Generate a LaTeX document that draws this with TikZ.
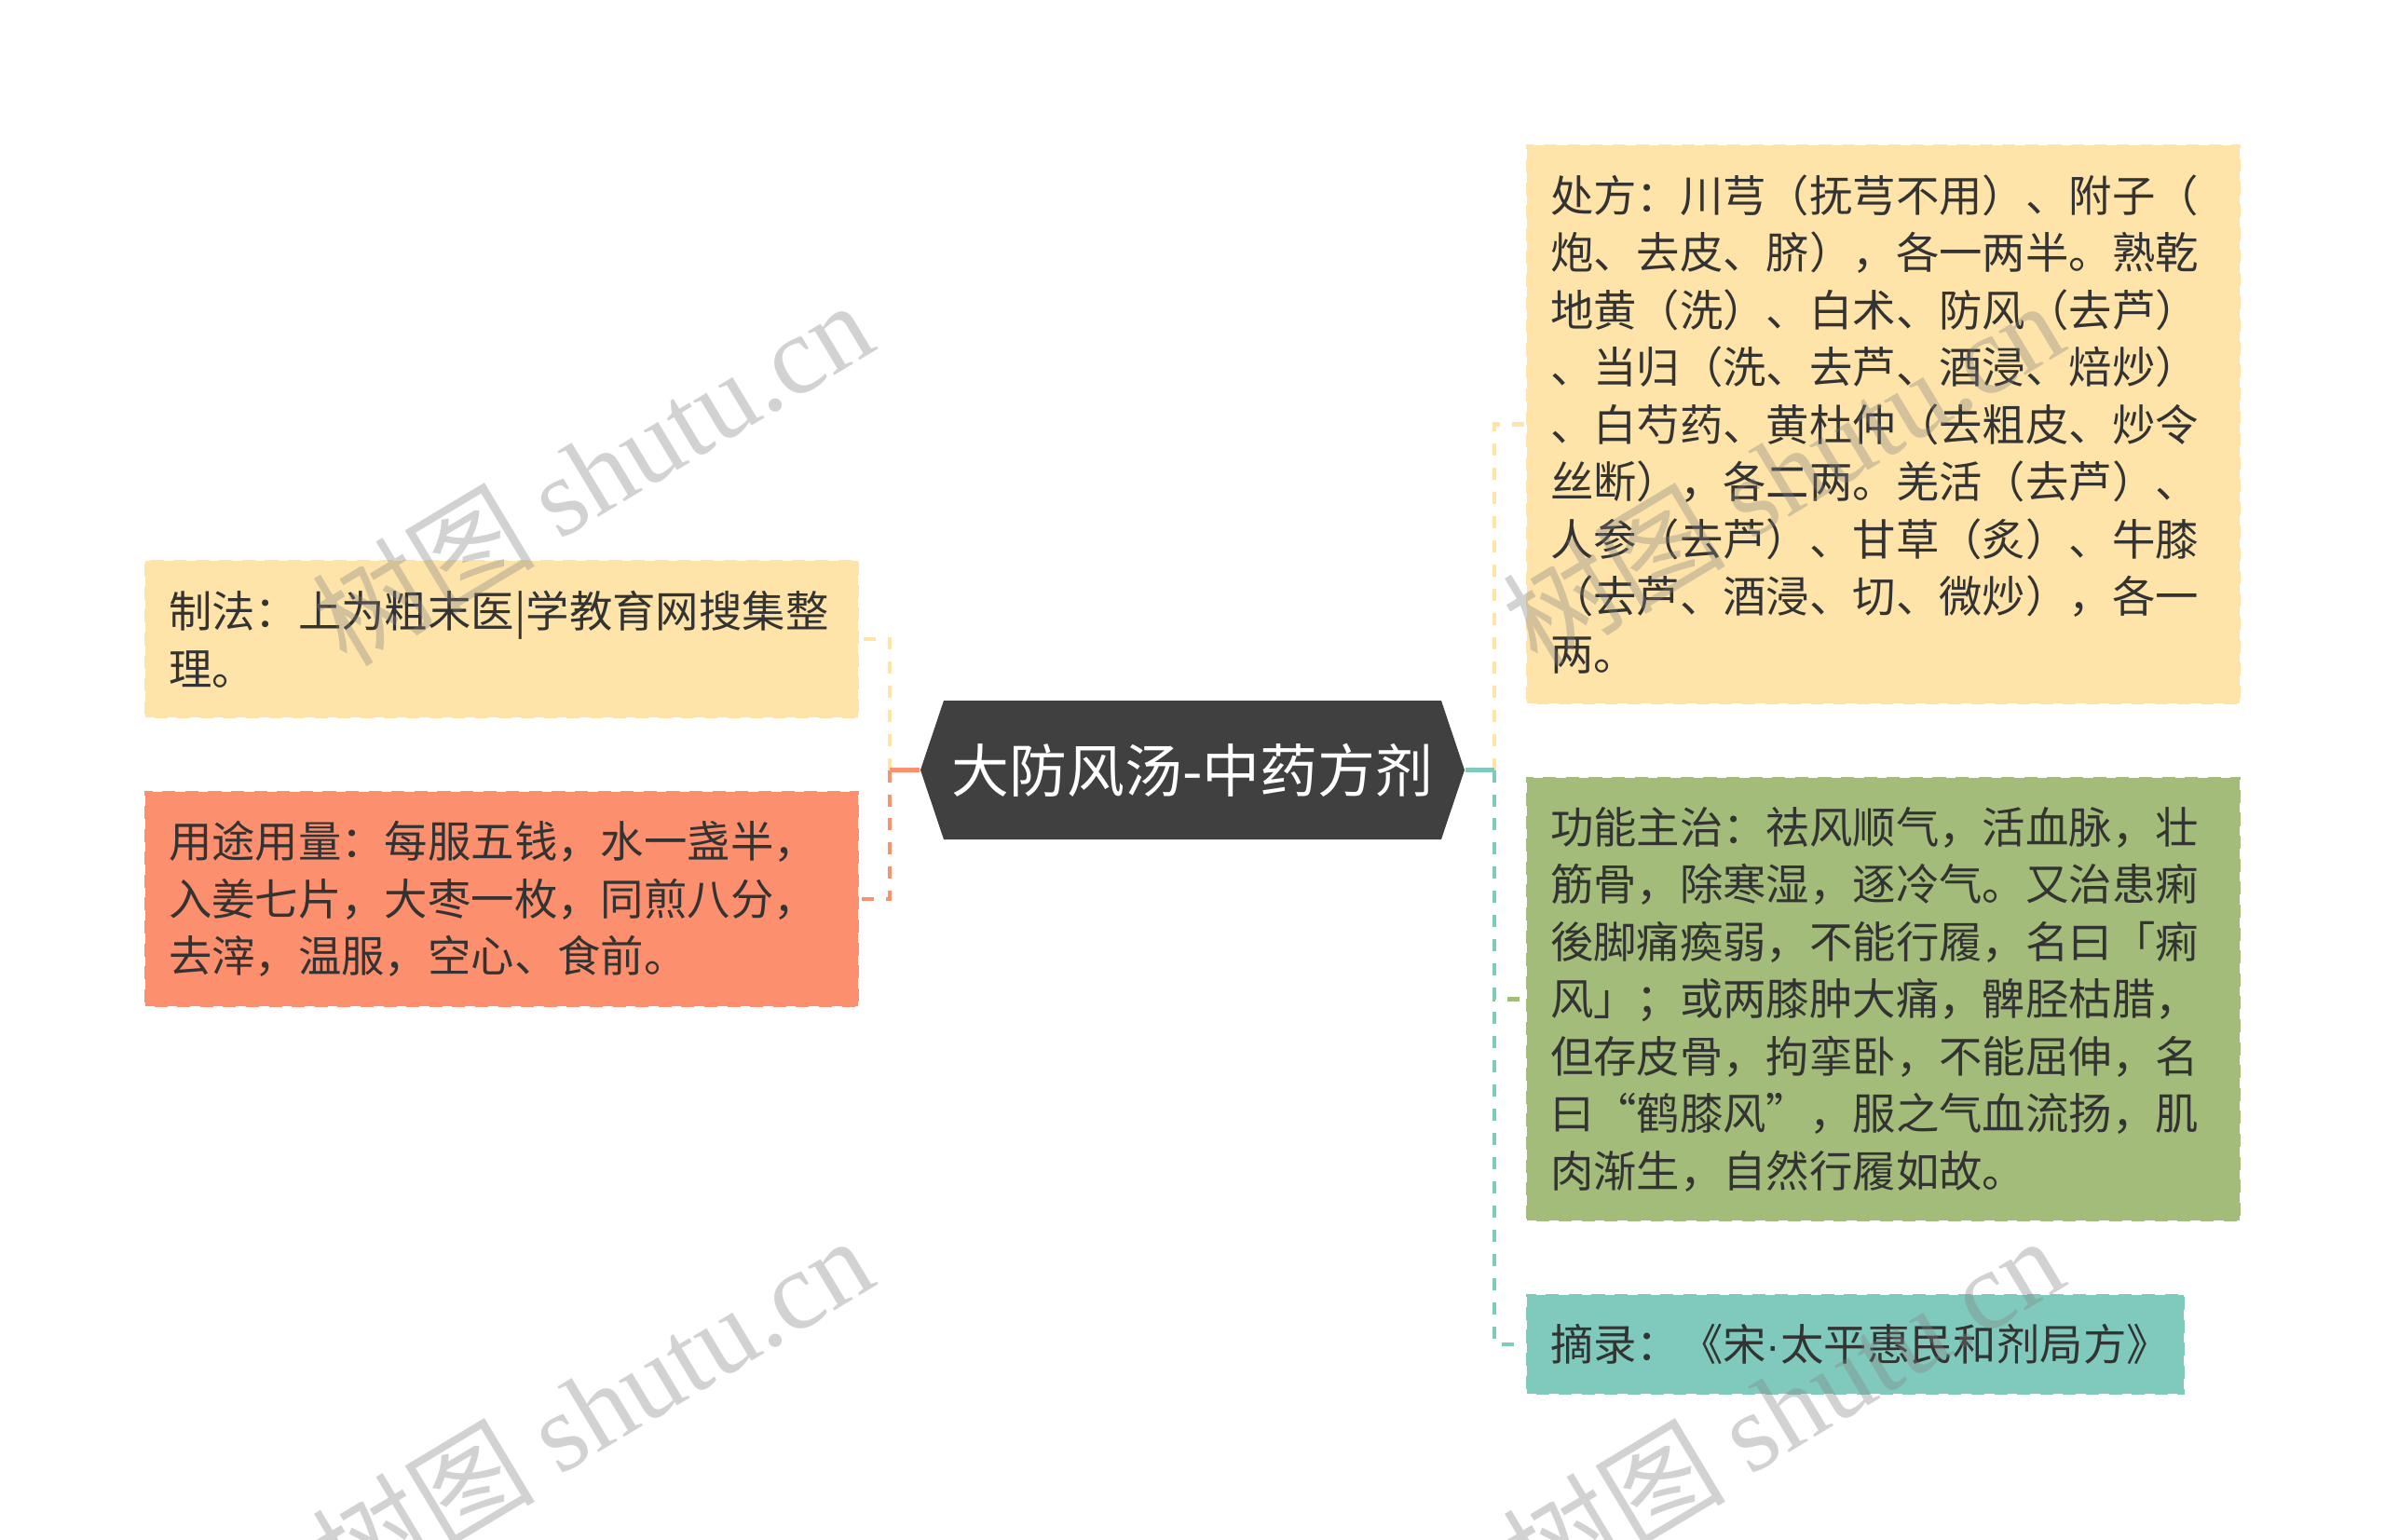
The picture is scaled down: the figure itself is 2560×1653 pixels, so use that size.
\documentclass[tikz,border=0pt]{standalone}
\usepackage{fontspec}
\setmainfont{Noto Sans CJK SC}
\newfontfamily\markfont{Liberation Serif}
\newfontfamily\dotfont{Liberation Sans}
\definecolor{ylw}{HTML}{FFE4AA}
\definecolor{org}{HTML}{FC8F6E}
\definecolor{grn}{HTML}{A3BC79}
\definecolor{tea}{HTML}{80CABD}
\definecolor{hubgray}{HTML}{404040}
\definecolor{ink}{HTML}{333333}

\begin{document}
\begin{tikzpicture}[x=0.1mm,y=-0.1mm,
  leaf/.style={fill=#1, draw=white, line width=0.8pt, dash pattern=on 3pt off 4pt,
    text=ink, align=left, inner xsep=2.6mm, inner ysep=0pt,
    font=\fontsize{13.2pt}{17.5pt}\selectfont},
  hub/.style={minimum width=58.4mm, minimum height=14.9mm, inner sep=0pt, text=white,
    font=\fontsize{17.6pt}{20pt}\selectfont,
    path picture={\fill[hubgray] (path picture bounding box.west)
      -- ([xshift=2.5mm]path picture bounding box.north west)
      -- ([xshift=-2.5mm]path picture bounding box.north east)
      -- (path picture bounding box.east)
      -- ([xshift=-2.5mm]path picture bounding box.south east)
      -- ([xshift=2.5mm]path picture bounding box.south west) -- cycle;}},
  link/.style={draw=#1, line width=1.4pt, dash pattern=on 1.3mm off 1.3mm},
  stub/.style={draw=#1, line width=1.4pt},
  wmark/.style={rotate=31, anchor=base west, text=gray, opacity=0.35, inner sep=0pt,
    font=\fontsize{34pt}{34pt}\selectfont}]

\fill[white] (0,0) rectangle (2560,1653);

\node[hub] (hub) at (1280,826.5) {大防风汤-中药方剂};

\node[leaf=ylw, text width=71.5mm, minimum height=17mm] (method) at (538.5,686)
  {制法：上为粗末医|学教育网搜集整\\理。};
\node[leaf=org, text width=71.5mm, minimum height=23.2mm] (usage) at (538.5,965)
  {用途用量：每服五钱，水一盏半，\\入姜七片，大枣一枚，同煎八分，\\去滓，温服，空心、食前。};

\node[leaf=ylw, text width=71.5mm, minimum height=60.1mm] (presc) at (2021.5,455.5)
  {处方：川芎（抚芎不用）、附子（\\炮、去皮、脐），各一两半。熟乾\\地黄（洗）、白术、防风（去芦）\\、当归（洗、去芦、酒浸、焙炒）\\、白芍药、黄杜仲（去粗皮、炒令\\丝断），各二两。羌活（去芦）、\\人参（去芦）、甘草（炙）、牛膝\\（去芦、酒浸、切、微炒），各一\\两。};
\node[leaf=grn, text width=71.5mm, minimum height=47.7mm] (func) at (2021.5,1072.5)
  {功能主治：祛风顺气，活血脉，壮\\筋骨，除寒湿，逐冷气。又治患痢\\後脚痛瘓弱，不能行履，名曰「痢\\风」；或两膝肿大痛，髀胫枯腊，\\但存皮骨，拘挛卧，不能屈伸，名\\曰“鹤膝风”，服之气血流扬，肌\\肉渐生，自然行履如故。};
\node[leaf=tea, text width=65.5mm, minimum height=10.8mm] (source) at (1991.5,1443)
  {摘录：《宋{\dotfont ·}太平惠民和剂局方》};

\coordinate (ljoin) at (955,826.5);
\coordinate (rjoin) at (1604,826.5);

\draw[link=ylw] (ljoin) |- (method.east);
\draw[link=org] (ljoin) |- (usage.east);
\draw[stub=org] (hub.west) -- (ljoin);

\draw[link=ylw] (rjoin) |- (presc.west);
\draw[link=grn] (rjoin) |- (func.west);
\draw[link=tea] (rjoin) |- (source.west);
\draw[stub=tea] (hub.east) -- (rjoin);

\begin{scope}
\clip (0,0) rectangle (2560,1653);
\foreach \dx/\dy [count=\i] in {0/0, 1278/0, 0/1004, 1278/1004}
  \node[wmark] (wm\i) at (372+\dx,718+\dy) {树图 {\markfont shutu.cn}};
\end{scope}
\end{tikzpicture}
\end{document}
